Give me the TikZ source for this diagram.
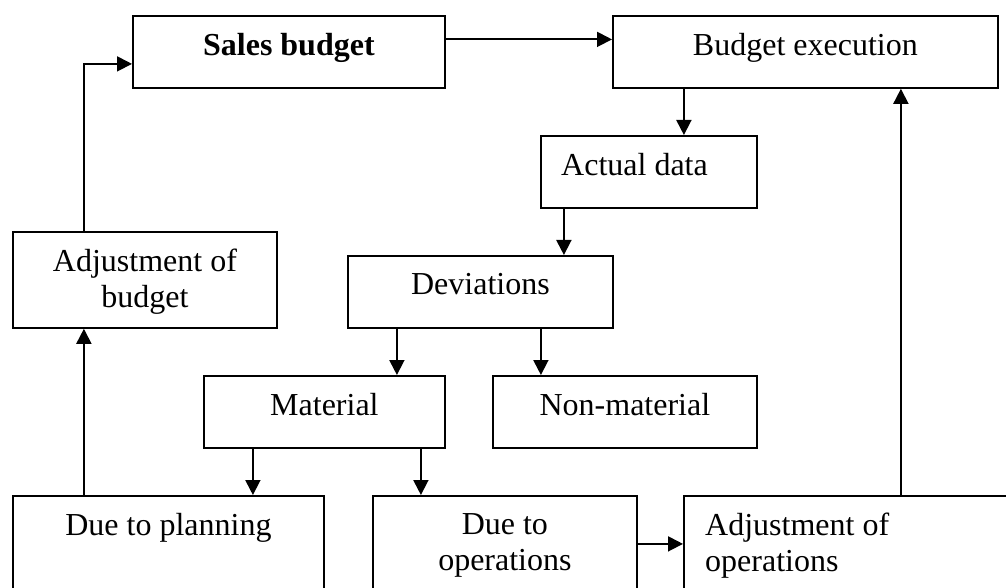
\documentclass[tikz,border=0pt]{standalone}
\usepackage{fontspec}
\setmainfont{Liberation Serif}
\usepackage{tikz}
\usetikzlibrary{arrows.meta, calc}

\begin{document}
\begin{tikzpicture}[x=1pt, y=1pt,
    box/.style={draw, line width=1.8pt, inner sep=0pt, anchor=north west},
    txt/.style={font=\fontsize{32}{36}\selectfont, inner sep=0pt, anchor=north, align=center},
    arr/.style={line width=1.8pt, -{Triangle[length=15pt, width=15pt]}}]
                \fill[white, use as bounding box] (0,0) rectangle (1006,587);
                \clip (0,0) rectangle (1006,587);
                % boxes
                \node[box, minimum width=312pt, minimum height=72pt] (sb) at (132,572) {};
                \node[box, minimum width=385pt, minimum height=72pt] (be) at (612,572) {};
                \node[box, minimum width=216pt, minimum height=72pt] (ad) at (540,452) {};
                \node[box, minimum width=264pt, minimum height=96pt] (adj) at (12,356) {};
                \node[box, minimum width=265pt, minimum height=72pt] (dev) at (347,332) {};
                \node[box, minimum width=241pt, minimum height=72pt] (mat) at (203,212) {};
                \node[box, minimum width=264pt, minimum height=72pt] (nm) at (492,212) {};
                \node[box, minimum width=311pt, minimum height=96pt] (dp) at (12,92) {};
                \node[box, minimum width=264pt, minimum height=96pt] (do) at (372,92) {};
                \node[box, minimum width=337pt, minimum height=96pt] (ao) at (683,92) {};
                % texts
                \node[txt] (sbtxt) at ([yshift=-18pt]sb.north) {\textbf{Sales budget}};
                \node[txt] (betxt) at ([yshift=-18pt]be.north) {Budget execution};
                \node[txt, anchor=north west] (adtxt) at ([xshift=21pt, yshift=-18pt]ad.north west) {Actual data};
                \node[txt] (adjtxt) at ([yshift=-18pt]adj.north) {Adjustment of\\budget};
                \node[txt] (devtxt) at ([yshift=-18pt]dev.north) {Deviations};
                \node[txt] (mattxt) at ([yshift=-18pt]mat.north) {Material};
                \node[txt] (nmtxt) at ([yshift=-18pt]nm.north) {Non-material};
                \node[txt] (dptxt) at ([yshift=-18pt]dp.north) {Due to planning};
                \node[txt] (dotxt) at ([yshift=-18pt]do.north) {Due to\\operations};
                \node[txt, anchor=north west, align=left] (aotxt) at ([xshift=22pt, yshift=-18pt]ao.north west) {Adjustment of\\operations};
                % connectors
                \coordinate (sbout) at ([yshift=12.5pt]sb.east);
                \coordinate (adin) at ([xshift=35pt]ad.north);
                \coordinate (devin) at ([xshift=83.5pt]dev.north);
                \coordinate (matin) at ([xshift=72.5pt]mat.north);
                \coordinate (nmin) at ([xshift=-84pt]nm.north);
                \coordinate (dpin) at ([xshift=84.5pt]dp.north);
                \coordinate (doin) at ([xshift=-84pt]do.north);
                \coordinate (dpout) at ([xshift=-84.5pt]dp.north);
                \coordinate (bein) at ([xshift=95.5pt]be.south);
                \draw[arr] (sbout) -- (sbout -| be.west);
                \draw[arr] (adin |- be.south) -- (adin);
                \draw[arr] (devin |- ad.south) -- (devin);
                \draw[arr] (matin |- dev.south) -- (matin);
                \draw[arr] (nmin |- dev.south) -- (nmin);
                \draw[arr] (dpin |- mat.south) -- (dpin);
                \draw[arr] (doin |- mat.south) -- (doin);
                \draw[arr] (dpout) -- (dpout |- adj.south);
                \draw[arr] (dpout |- adj.north) |- ([yshift=-12pt]sb.west);
                \draw[arr] (do.east) -- (ao.west);
                \draw[arr] (bein |- ao.north) -- (bein);
            \end{tikzpicture}
\end{document}
